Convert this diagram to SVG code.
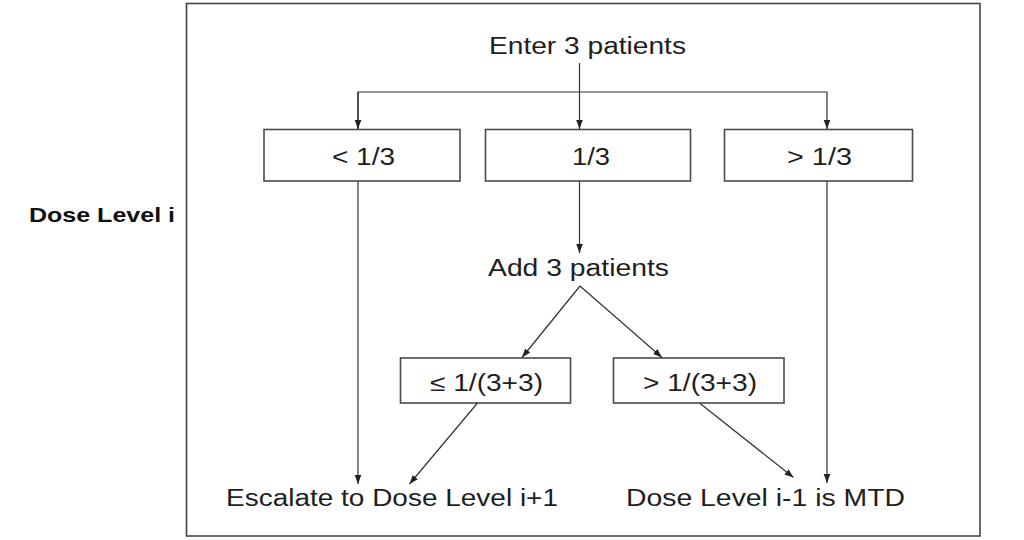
<svg xmlns="http://www.w3.org/2000/svg" width="1024" height="540" viewBox="0 0 1024 540">
<style>
.t{font-family:"Liberation Sans",Arial,sans-serif;font-size:23px;fill:#1e1e1e;text-anchor:start}
.b{font-family:"Liberation Sans",Arial,sans-serif;font-size:21px;font-weight:bold;fill:#111}
.box{fill:#fff;stroke:#4a4a4a;stroke-width:1.6}
.c{fill:none;stroke:#333;stroke-width:1.2}
</style>
<defs>
<marker id="ah" markerUnits="userSpaceOnUse" markerWidth="9" markerHeight="9" viewBox="0 0 9 9" refX="9" refY="4.5" orient="auto">
<path d="M0,1.2 L9,4.5 L0,7.8 Z" fill="#222"/>
</marker>
</defs>
<rect width="1024" height="540" fill="#fff"/>
<rect id="frame" x="186.5" y="3.5" width="793.5" height="532.5" fill="none" stroke="#444" stroke-width="1.6"/>
<g id="label-dose-level">
<text class="b" x="29" y="222" textLength="146" lengthAdjust="spacingAndGlyphs">Dose Level i</text>
</g>
<g id="node-enter">
<text class="t" x="489" y="54" textLength="197" lengthAdjust="spacingAndGlyphs">Enter 3 patients</text>
</g>
<g id="node-lt">
<rect class="box" x="264" y="129.5" width="196" height="51.5"/>
<text class="t" x="332" y="165" textLength="63" lengthAdjust="spacingAndGlyphs">&lt; 1/3</text>
</g>
<g id="node-eq">
<rect class="box" x="485.5" y="129.5" width="205" height="51.5"/>
<text class="t" x="572" y="165" textLength="38" lengthAdjust="spacingAndGlyphs">1/3</text>
</g>
<g id="node-gt">
<rect class="box" x="724.5" y="129.5" width="188" height="51.5"/>
<text class="t" x="787" y="165" textLength="65" lengthAdjust="spacingAndGlyphs">&gt; 1/3</text>
</g>
<g id="node-add">
<text class="t" x="488" y="276" textLength="181" lengthAdjust="spacingAndGlyphs">Add 3 patients</text>
</g>
<g id="node-le6">
<rect class="box" x="400.5" y="358" width="170" height="45"/>
<text class="t" x="430" y="391" textLength="113" lengthAdjust="spacingAndGlyphs">≤ 1/(3+3)</text>
</g>
<g id="node-gt6">
<rect class="box" x="613.5" y="358" width="170.5" height="45"/>
<text class="t" x="643" y="391" textLength="114" lengthAdjust="spacingAndGlyphs">&gt; 1/(3+3)</text>
</g>
<g id="node-escalate">
<text class="t" x="226" y="506" textLength="332" lengthAdjust="spacingAndGlyphs">Escalate to Dose Level i+1</text>
</g>
<g id="node-mtd">
<text class="t" x="626" y="506" textLength="279" lengthAdjust="spacingAndGlyphs">Dose Level i-1 is MTD</text>
</g>
<g id="connectors">
<path class="c" d="M579.5,63 V129" marker-end="url(#ah)"/>
<path class="c" d="M358,129 V92 H827 V129" marker-end="url(#ah)"/>
<path class="c" d="M358,92 V129" marker-end="url(#ah)"/>
<path class="c" d="M358,181 V484" marker-end="url(#ah)"/>
<path class="c" d="M579.5,181 V253" marker-end="url(#ah)"/>
<path class="c" d="M827,181 V483" marker-end="url(#ah)"/>
<path class="c" d="M580,286 L522,357.5" marker-end="url(#ah)"/>
<path class="c" d="M580,286 L662,357.5" marker-end="url(#ah)"/>
<path class="c" d="M477.5,403 L409.5,484" marker-end="url(#ah)"/>
<path class="c" d="M699.5,403 L793.5,477.5" marker-end="url(#ah)"/>
</g>
</svg>
